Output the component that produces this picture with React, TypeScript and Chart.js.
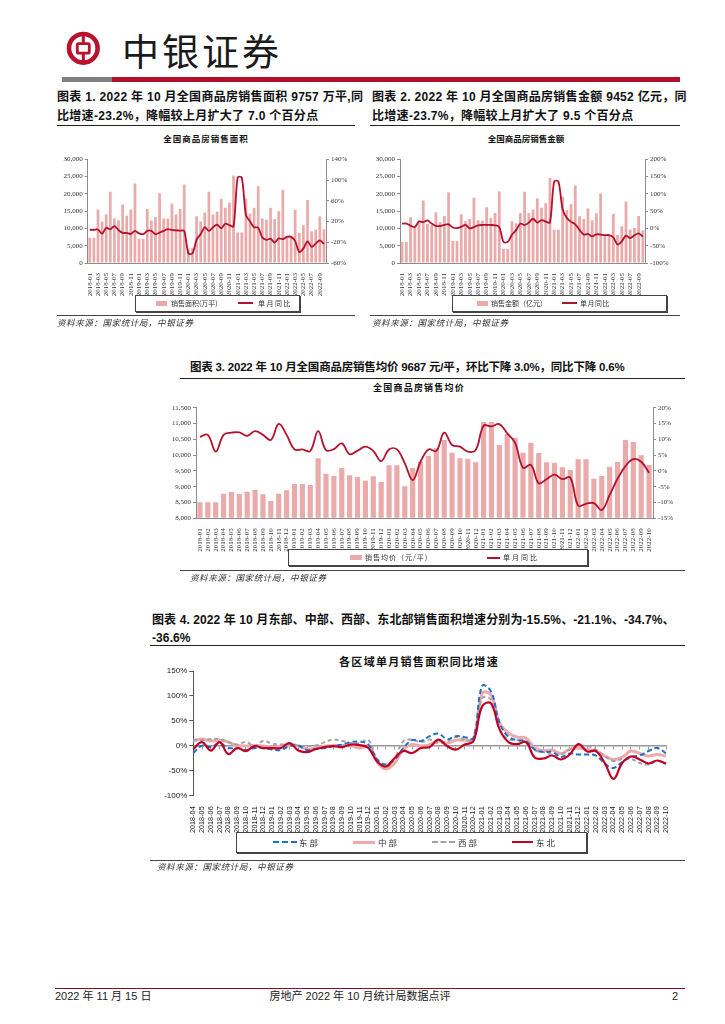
import React, { useEffect, useRef } from 'react';
import { Chart, registerables } from 'chart.js';

Chart.register(...registerables);

// ---------------- data ----------------
const MONTHS = [
  '2018-01', '2018-02', '2018-03', '2018-04', '2018-05', '2018-06', '2018-07', '2018-08', '2018-09', '2018-10', '2018-11', '2018-12',
  '2019-01', '2019-02', '2019-03', '2019-04', '2019-05', '2019-06', '2019-07', '2019-08', '2019-09', '2019-10', '2019-11', '2019-12',
  '2020-01', '2020-02', '2020-03', '2020-04', '2020-05', '2020-06', '2020-07', '2020-08', '2020-09', '2020-10', '2020-11', '2020-12',
  '2021-01', '2021-02', '2021-03', '2021-04', '2021-05', '2021-06', '2021-07', '2021-08', '2021-09', '2021-10', '2021-11', '2021-12',
  '2022-01', '2022-02', '2022-03', '2022-04', '2022-05', '2022-06', '2022-07', '2022-08', '2022-09', '2022-10',
];

// 销售面积（万平）
const AREA = [
  7288, 7288, 15449, 11973, 14102, 20600, 12874, 12369, 16893, 13700, 15455, 23000,
  7020, 7020, 15600, 12300, 13300, 20200, 12900, 12900, 17200, 14000, 15600, 22700,
  4240, 4240, 13500, 12000, 14600, 20600, 14000, 14800, 18600, 16000, 17500, 25300,
  8800, 8800, 18700, 14300, 16000, 22200, 12900, 12500, 16000, 12700, 15000, 21200,
  7850, 7850, 15300, 8700, 10900, 18200, 9200, 9600, 13500, 9757,
];
// 面积单月同比（%）
const AREA_YOY = [
  4.1, 4.1, 4.5, -3.5, 8.0, 5.0, 11.0, 3.5, -2.0, -2.0, -4.0, 2.0,
  -3.0, -4.5, 2.0, 2.0, -4.5, -1.5, 2.0, 5.5, 3.7, 3.0, 2.4, 1.7,
  -41.4, -41.4, -15.0, -4.0, 9.0, 2.0, 9.0, 14.0, 7.0, 16.0, 13.0, 10.5,
  105.0, 105.0, 33.0, 20.0, 9.0, 8.0, -11.0, -15.5, -13.0, -20.5, -12.5, -14.0,
  -9.6, -9.6, -17.7, -39.0, -31.8, -18.3, -28.9, -22.6, -16.2, -23.2,
];

// 销售金额（亿元）
const AMOUNT = [
  6050, 6050, 13200, 10500, 12400, 18100, 11300, 11000, 14700, 11800, 13600, 20500,
  6400, 6400, 14100, 12100, 12700, 18900, 12400, 12200, 16100, 13000, 14500, 20700,
  4150, 4150, 12100, 11500, 14400, 20600, 14500, 15500, 18700, 16000, 17300, 24600,
  9600, 9600, 19200, 15300, 17000, 22400, 13500, 12700, 15800, 12400, 14400, 20100,
  7800, 7800, 14200, 8100, 10600, 17800, 9600, 10100, 13600, 9452,
];
// 金额单月同比（%）
const AMOUNT_YOY = [
  14.0, 14.0, 8.0, 4.0, 20.0, 18.0, 23.0, 14.0, 7.0, 7.0, 10.0, 12.0,
  2.8, 1.0, 5.0, 10.0, 0.0, 4.0, 9.0, 10.0, 10.0, 10.0, 9.0, 4.0,
  -39.0, -39.0, -18.0, -5.0, 14.0, 10.0, 17.0, 28.0, 17.0, 24.0, 20.0, 17.0,
  136.0, 136.0, 55.0, 30.0, 19.0, 12.0, -4.0, -18.0, -16.0, -23.0, -17.0, -18.0,
  -19.3, -19.3, -26.0, -46.6, -37.7, -20.8, -28.2, -19.9, -14.2, -23.7,
];

// 销售均价（元/平）
const PRICE = [
  8506, 8506, 8506, 8780, 8832, 8770, 8843, 8896, 8760, 8548, 8780, 8885,
  9085, 9085, 9054, 9897, 9412, 9338, 9591, 9359, 9307, 9191, 9328, 9149,
  9675, 9675, 9012, 9591, 9791, 9970, 10213, 10476, 10076, 9897, 9876, 9770,
  11045, 11045, 10318, 10666, 10540, 10076, 10392, 10065, 9770, 9760, 9612, 9528,
  9865, 9865, 9254, 9338, 9633, 9781, 10476, 10413, 9992, 9687,
];
// 均价单月同比（%）
const PRICE_YOY = [
  10.8, 11.4, 6.1, 11.4, 12.1, 12.2, 11.1, 12.6, 11.4, 9.8, 14.9, 11.4,
  6.8, 6.8, 6.3, 12.6, 6.6, 6.9, 8.7, 5.3, 6.4, 7.7, 6.3, 3.1,
  6.8, 6.8, 2.4, -2.9, 2.9, 6.8, 6.3, 12.1, 8.2, 7.7, 6.1, 6.6,
  14.3, 14.1, 14.8, 11.9, 8.9, 1.0, 1.9, -3.9, -2.6, -1.2, -2.6, -2.1,
  -11.0, -10.4, -10.2, -12.4, -7.6, -2.5, 1.5, 3.7, 2.9, -0.6,
];

// 各区域单月销售面积同比（%），2018-04 ~ 2022-10
const REGION_MONTHS = [
  '2018-04', '2018-05', '2018-06', '2018-07', '2018-08', '2018-09', '2018-10', '2018-11', '2018-12',
  '2019-01', '2019-02', '2019-03', '2019-04', '2019-05', '2019-06', '2019-07', '2019-08', '2019-09', '2019-10', '2019-11', '2019-12',
  '2020-01', '2020-02', '2020-03', '2020-04', '2020-05', '2020-06', '2020-07', '2020-08', '2020-09', '2020-10', '2020-11', '2020-12',
  '2021-01', '2021-02', '2021-03', '2021-04', '2021-05', '2021-06', '2021-07', '2021-08', '2021-09', '2021-10', '2021-11', '2021-12',
  '2022-01', '2022-02', '2022-03', '2022-04', '2022-05', '2022-06', '2022-07', '2022-08', '2022-09', '2022-10',
];
const EAST = [
  -15, 0, -3, 5, -5, -5, -9, -5, -5,
  -8, -9, -1, 0, -9, -7, -5, -1, 2, 7, 8, 2,
  -28, -38, -28, -5, 11, 9, 19, 24, 13, 19, 17, 15,
  120, 109, 45, 18, 11, 9, -8, -13, -13, -23, -16, -18,
  -18, -20, -36, -45, -33, -23, -20, -11, -5, -15.5,
];
const CENTRAL = [
  9, 13, 9, 11, 7, 0, -1, 0, -1,
  -3, -1, 3, -1, -7, -5, -1, 0, 0, 0, -5, -1,
  -33, -47, -35, -8, 2, -1, 2, 9, 5, 11, 11, 13,
  105, 102, 45, 25, 17, 15, -5, -10, -9, -16, -7, -5,
  -8, -11, -21, -28, -23, -11, -16, -21, -18, -21.1,
];
const WEST = [
  12, 11, 13, 13, 7, 2, 7, -1, 9,
  4, 2, 4, 0, -1, 0, 7, 12, 9, 5, 5, 11,
  -28, -43, -25, 9, 12, 7, 12, 5, 9, 17, 12, 11,
  95, 92, 32, 13, 11, 7, -9, -13, -18, -18, -8, -1,
  -1, -8, -21, -31, -27, -27, -35, -38, -31, -34.7,
];
const NORTHEAST = [
  -7, 7, -10, 7, -17, -5, -11, -1, -5,
  -5, -5, 5, -10, -13, -7, -3, -1, -3, 2, 1, -5,
  -32, -42, -25, -11, -15, -5, -3, 12, -1, -8, 2, 9,
  79, 85, 32, 7, 3, 7, -24, -26, -20, -28, -18, 3,
  -12, -11, -35, -67, -35, -22, -28, -36, -30, -36.6,
];

// ---------------- styles ----------------
const BAR = '#eaaaaa';
const LINE = '#b3112d';
const AXIS = '#8c8c8c';
const TXT = '#333333';
const SERIF = '"Liberation Serif", "Times New Roman", serif';
const SANS = '"Liberation Sans", Arial, sans-serif';
const CJK = '"Liberation Sans", "Noto Sans CJK SC", sans-serif';
const CJKONLY = '"Noto Sans CJK SC", sans-serif';

const thousands = (v: number) => Number(v).toLocaleString('en-US');

function barLineConfig(o: any) {
  const tickFont = { family: SERIF, size: 7 };
  return {
    type: 'bar',
    data: {
      labels: o.labels,
      datasets: [
        {
          type: 'line', label: o.lineLabel, data: o.line, yAxisID: 'y1', borderColor: LINE,
          borderWidth: 1.8, pointRadius: 0, tension: o.tension, order: 0,
        },
        {
          type: 'bar', label: o.barLabel, data: o.bars, yAxisID: 'y', backgroundColor: BAR,
          barPercentage: o.barPct, categoryPercentage: 1, order: 1, ...(o.base != null ? { base: o.base } : {}),
        },
      ],
    },
    options: {
      animation: false, responsive: false, maintainAspectRatio: false, devicePixelRatio: 1,
      layout: { padding: { top: o.padTop, left: 0, right: 0, bottom: 0 } },
      plugins: { legend: { display: false }, tooltip: { enabled: false } },
      scales: {
        x: {
          offset: true,
          grid: { display: false },
          border: { color: AXIS },
          ticks: {
            autoSkip: false, maxRotation: 90, minRotation: 90, padding: 2, font: tickFont, color: TXT,
            callback: (_v: any, i: number) => (o.every > 1 && i % o.every ? '' : o.labels[i]),
          },
          afterFit: (s: any) => { s.height = o.xH; },
        },
        y: {
          position: 'left', min: o.yMin, max: o.yMax,
          ticks: { stepSize: o.yStep, font: tickFont, color: TXT, padding: 2, callback: (v: number) => thousands(v) },
          grid: { drawOnChartArea: false, tickLength: 3, color: AXIS },
          border: { color: AXIS },
          afterFit: (s: any) => { s.width = o.yW; },
        },
        y1: {
          position: 'right', min: o.y1Min, max: o.y1Max,
          ticks: { stepSize: o.y1Step, font: tickFont, color: TXT, padding: 2, callback: (v: number) => v + '%' },
          grid: { drawOnChartArea: false, tickLength: 3, color: AXIS },
          border: { color: AXIS },
          afterFit: (s: any) => { s.width = o.y1W; },
        },
      },
    },
  };
}

function regionConfig() {
  const font = { family: SANS, size: 7.3 };
  const ds = (label: string, data: number[], color: string, width: number, dash: number[], order: number) => ({
    label, data, borderColor: color, borderWidth: width, borderDash: dash, pointRadius: 0,
    tension: 0.4, fill: false, order,
  });
  return {
    type: 'line',
    data: {
      labels: REGION_MONTHS,
      datasets: [
        ds('东部', EAST, '#1f70c8', 2, [5, 3], 1),
        ds('中部', CENTRAL, '#eeaaaa', 3, [], 3),
        ds('西部', WEST, '#a3a3a3', 2, [4, 3], 2),
        ds('东北', NORTHEAST, '#c00027', 2.2, [], 0),
      ],
    },
    options: {
      animation: false, responsive: false, maintainAspectRatio: false, devicePixelRatio: 1,
      layout: { padding: { top: 11, right: 14, left: 0, bottom: 0 } },
      plugins: { legend: { display: false }, tooltip: { enabled: false } },
      scales: {
        x: {
          type: 'category', position: { y: 0 }, offset: false,
          grid: { drawOnChartArea: false, tickLength: 3, color: '#9a9a9a' },
          border: { color: '#9a9a9a', width: 1.5 },
          ticks: { display: false },
        },
        xb: {
          type: 'category', position: 'bottom', offset: false,
          grid: { display: false }, border: { display: false },
          ticks: { autoSkip: false, maxRotation: 90, minRotation: 90, padding: 3, font, color: '#222' },
          afterFit: (s: any) => { s.height = 39.7; },
        },
        y: {
          min: -100, max: 150,
          ticks: { stepSize: 50, font: { family: SANS, size: 8 }, color: '#222', padding: 2, callback: (v: number) => v + '%' },
          grid: { drawOnChartArea: false, tickLength: 4, color: '#555' },
          border: { color: '#555' },
          afterFit: (s: any) => { s.width = 43.3; },
        },
      },
    },
  };
}

function ChartCanvas({ left, top, width, height, make }: any) {
  const ref = useRef<HTMLCanvasElement>(null);
  useEffect(() => {
    const chart = new Chart(ref.current as HTMLCanvasElement, make());
    return () => chart.destroy();
  }, []);
  return (
    <canvas
      ref={ref}
      width={width}
      height={height}
      style={{ position: 'absolute', left, top, width, height }}
    />
  );
}

// ---------------- page pieces ----------------
const abs = (left: number, top: number, extra: any = {}) => ({ position: 'absolute' as const, left, top, ...extra });

function HLine({ x1, x2, y, color = '#222', h = 1 }: any) {
  return <div style={abs(x1, y, { width: x2 - x1, height: h, background: color })} />;
}

function Txt({ x, y, size, children, bold = false, family = CJK, ls = 0, color = '#111', italic = false, center = false }: any) {
  return (
    <div
      style={abs(x, y - size * 0.7, {
        fontFamily: family, fontSize: size, fontWeight: bold ? 700 : 400, letterSpacing: ls, color,
        whiteSpace: 'nowrap', lineHeight: `${size * 1.4}px`, fontStyle: italic ? 'italic' : 'normal',
        transform: center ? 'translateX(-50%)' : undefined,
      })}
    >
      {children}
    </div>
  );
}

function LegendBox({ x, y, w, h }: any) {
  return (
    <div style={abs(x, y, { width: w, height: h, border: '1px solid #444', boxShadow: '1px 1px 0 #444', background: '#fff', boxSizing: 'border-box' })} />
  );
}
function BarSwatch({ x, y, w = 11, h = 5 }: any) {
  return <div style={abs(x, y - h / 2, { width: w, height: h, background: BAR })} />;
}
function LineSwatch({ x, y, w, color, h = 2, dashed = false }: any) {
  return dashed
    ? <div style={abs(x, y - h / 2, { width: w, height: 0, borderTop: `${h}px dashed ${color}` })} />
    : <div style={abs(x, y - h / 2, { width: w, height: h, background: color })} />;
}

function Logo() {
  return (
    <svg width={40} height={40} style={abs(63, 28)} viewBox="0 0 40 40">
      <circle cx={20.3} cy={20.3} r={14.3} fill="none" stroke="#b8122c" strokeWidth={4.6} />
      <rect x={14.3} y={15.6} width={12} height={9.6} rx={1.2} fill="none" stroke="#b8122c" strokeWidth={2.8} />
      <rect x={18.8} y={5} width={3} height={10.6} fill="#b8122c" />
      <rect x={18.8} y={25.2} width={3} height={10.6} fill="#b8122c" />
    </svg>
  );
}

export default function App() {
  const SRC = '资料来源：国家统计局，中银证券';
  return (
    <div style={{ position: 'absolute', left: 0, top: 0, width: 725, height: 1024, background: '#fff', overflow: 'hidden' }}>
      {/* header */}
      <Logo />
      <div style={abs(122, 28, { fontFamily: CJKONLY, fontSize: 37, lineHeight: '44px', letterSpacing: 3, color: '#1a1a1a', whiteSpace: 'nowrap' })}>
        中银证券
      </div>
      <div style={abs(62, 77, { width: 50, height: 5, background: '#7f7f7f' })} />
      <div style={abs(112, 77, { width: 568, height: 5, background: '#b0102a' })} />

      {/* figure 1 */}
      <Txt x={57} y={97} size={12} bold ls={0.3}>图表 1. 2022 年 10 月全国商品房销售面积 9757 万平,同</Txt>
      <Txt x={57} y={116} size={12} bold ls={0.3}>比增速-23.2%，降幅较上月扩大了 7.0 个百分点</Txt>
      <HLine x1={57} x2={355} y={125} />
      <Txt x={206} y={140} size={8.5} bold ls={1} center>全国商品房销售面积</Txt>
      <ChartCanvas
        left={50} top={150} width={305} height={150}
        make={() => barLineConfig({
          labels: MONTHS, bars: AREA, line: AREA_YOY, barLabel: '销售面积(万平)', lineLabel: '单月同比',
          yMin: 0, yMax: 30000, yStep: 5000, y1Min: -60, y1Max: 140, y1Step: 20,
          yW: 37.7, y1W: 29, xH: 37, padTop: 9.3, every: 2, barPct: 0.66, tension: 0.3,
        })}
      />
      <LegendBox x={135} y={295} w={165} h={17} />
      <BarSwatch x={156} y={303} />
      <Txt x={171} y={303.5} size={7} family={CJKONLY} color="#333">销售面积(万平)</Txt>
      <LineSwatch x={238} y={303} w={15} color={LINE} />
      <Txt x={258} y={303.5} size={7} ls={1.5} family={CJKONLY} color="#333">单月同比</Txt>
      <HLine x1={57} x2={355} y={315} color="#444" />
      <Txt x={57} y={323} size={8.5} ls={0.6} italic color="#333" family={CJKONLY}>{SRC}</Txt>

      {/* figure 2 */}
      <Txt x={372} y={97} size={12} bold ls={0.3}>图表 2. 2022 年 10 月全国商品房销售金额 9452 亿元，同</Txt>
      <Txt x={372} y={116} size={12} bold ls={0.3}>比增速-23.7%，降幅较上月扩大了 9.5 个百分点</Txt>
      <HLine x1={370} x2={680} y={125} />
      <Txt x={526} y={140} size={8.5} bold ls={0} center>全国商品房销售金额</Txt>
      <ChartCanvas
        left={362} top={150} width={318} height={150}
        make={() => barLineConfig({
          labels: MONTHS, bars: AMOUNT, line: AMOUNT_YOY, barLabel: '销售金额（亿元）', lineLabel: '单月同比',
          yMin: 0, yMax: 30000, yStep: 5000, y1Min: -100, y1Max: 200, y1Step: 50,
          yW: 38, y1W: 35, xH: 37, padTop: 9.3, every: 2, barPct: 0.66, tension: 0.3,
        })}
      />
      <LegendBox x={452} y={295} w={215} h={17} />
      <BarSwatch x={477} y={303} />
      <Txt x={491} y={303.5} size={7} family={CJKONLY} color="#333">销售金额（亿元）</Txt>
      <LineSwatch x={562} y={303} w={15} color={LINE} />
      <Txt x={580} y={303.5} size={7} ls={0.5} family={CJKONLY} color="#333">单月同比</Txt>
      <HLine x1={370} x2={680} y={315} color="#444" />
      <Txt x={372} y={323} size={8.5} ls={0.6} italic color="#333" family={CJKONLY}>{SRC}</Txt>

      {/* figure 3 */}
      <Txt x={190} y={367} size={11.5} bold ls={-0.2}>图表 3. 2022 年 10 月全国商品房销售均价 9687 元/平，环比下降 3.0%，同比下降 0.6%</Txt>
      <HLine x1={180} x2={685} y={378} />
      <Txt x={419} y={388} size={9} bold ls={1.2} center>全国商品房销售均价</Txt>
      <ChartCanvas
        left={150} top={395} width={540} height={160}
        make={() => barLineConfig({
          labels: MONTHS, bars: PRICE, line: PRICE_YOY, barLabel: '销售均价（元/平）', lineLabel: '单月同比',
          yMin: 8000, yMax: 11500, yStep: 500, y1Min: -15, y1Max: 20, y1Step: 5, base: 8000,
          yW: 46, y1W: 37, xH: 36.7, padTop: 12.7, every: 1, barPct: 0.66, tension: 0.4,
        })}
      />
      <LegendBox x={288} y={549} w={300} h={17} />
      <BarSwatch x={350} y={557.5} w={12} />
      <Txt x={365} y={558} size={7} ls={1} family={CJKONLY} color="#333">销售均价（元/平）</Txt>
      <LineSwatch x={487} y={557.5} w={13} color={LINE} />
      <Txt x={503} y={558} size={7} ls={2} family={CJKONLY} color="#333">单月同比</Txt>
      <HLine x1={180} x2={685} y={570} color="#444" />
      <Txt x={190} y={578} size={8.5} ls={0.6} italic color="#333" family={CJKONLY}>{SRC}</Txt>

      {/* figure 4 */}
      <Txt x={152} y={620} size={12} bold ls={0.1}>图表 4. 2022 年 10 月东部、中部、西部、东北部销售面积增速分别为-15.5%、-21.1%、-34.7%、</Txt>
      <Txt x={152} y={638} size={12} bold ls={0.1}>-36.6%</Txt>
      <HLine x1={150} x2={685} y={645} />
      <Txt x={419} y={663} size={11} bold ls={1.3} center>各区域单月销售面积同比增速</Txt>
      <ChartCanvas left={150} top={660} width={530} height={175} make={regionConfig} />
      <LegendBox x={236} y={832} w={351} h={21} />
      <LineSwatch x={273} y={842} w={24} color="#1f70c8" dashed />
      <Txt x={299} y={842.5} size={8.5} ls={2} family={CJKONLY} color="#333">东部</Txt>
      <LineSwatch x={353} y={842} w={22} color="#eeaaaa" h={3} />
      <Txt x={378} y={842.5} size={8.5} ls={2} family={CJKONLY} color="#333">中部</Txt>
      <LineSwatch x={432} y={842} w={23} color="#a3a3a3" dashed />
      <Txt x={458} y={842.5} size={8.5} ls={2} family={CJKONLY} color="#333">西部</Txt>
      <LineSwatch x={512} y={842} w={21} color="#c00027" h={2.2} />
      <Txt x={536} y={842.5} size={8.5} ls={2} family={CJKONLY} color="#333">东北</Txt>
      <HLine x1={150} x2={685} y={860} color="#444" />
      <Txt x={157} y={867} size={8.5} ls={0.6} italic color="#333" family={CJKONLY}>{SRC}</Txt>

      {/* footer */}
      <HLine x1={55} x2={685} y={988} color="#8e0c22" h={1.2} />
      <Txt x={55} y={997} size={11} family={CJK} color="#222">2022 年 11 月 15 日</Txt>
      <Txt x={360} y={997} size={11} family={CJK} color="#222" center>房地产 2022 年 10 月统计局数据点评</Txt>
      <Txt x={672} y={997} size={11} family={SANS} color="#222">2</Txt>
    </div>
  );
}
